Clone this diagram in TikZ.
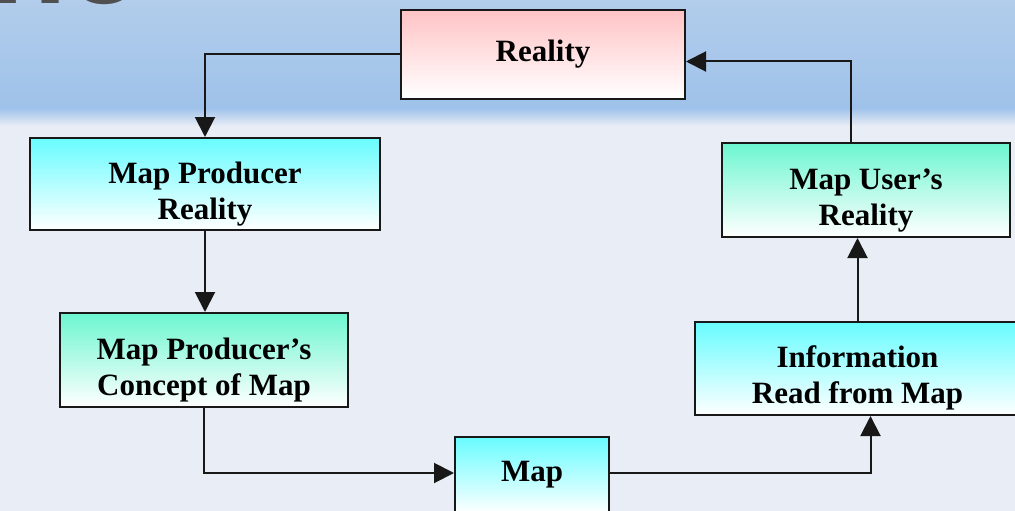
\documentclass[tikz,border=0pt]{standalone}
\usepackage{fontspec}
\setmainfont{Liberation Serif}
\newfontfamily\titrefont{Liberation Sans}
\usetikzlibrary{calc}
\usetikzlibrary{arrows.meta}
\definecolor{fondhaut}{HTML}{B2CDEB}
\definecolor{fondbleu}{HTML}{9FC2EA}
\definecolor{fondbas}{HTML}{E9EDF5}
\definecolor{rose}{HTML}{FFC3C5}
\definecolor{cyanclair}{HTML}{68FCFF}
\definecolor{aqua}{HTML}{6CF6D0}
\definecolor{bord}{HTML}{181818}
\definecolor{gristitre}{HTML}{505050}
\newcommand{\bas}[1]{\raisebox{-10pt}[\height][\depth]{\begin{tabular}{@{}c@{}}#1\end{tabular}}}
\tikzset{
  boite/.style={draw=bord, line width=2pt, inner sep=0pt, bottom color=white,
    font=\fontsize{31}{36}\selectfont\bfseries},
  fleche/.style={draw=bord, line width=2pt, -{Triangle[length=20pt,width=20pt]}},
  titre/.style={text=gristitre, inner sep=0pt, font=\titrefont\bfseries\fontsize{125}{125}\selectfont}
}
\begin{document}
\begin{tikzpicture}[x=1pt,y=-1pt]
    \useasboundingbox (0,0) rectangle (1015,511);
    % Fond
    \fill[fondbas] (0,0) rectangle (1015,511);
    \shade[top color=fondhaut, bottom color=fondbleu] (0,0) rectangle (1015,108);
    \shade[top color=fondbleu, bottom color=fondbas] (0,108) rectangle (1015,126);
    % Titre coupé
    \node[titre, anchor=base west] (titre) at (-10,4) {ho};
    % Boites
    \node[boite, top color=rose, minimum width=284pt, minimum height=89pt] (real) at (543,54.5) {Reality};
    \node[boite, top color=cyanclair, minimum width=350pt, minimum height=92pt] (prod) at (205,184) {\bas{Map Producer\\Reality}};
    \node[boite, top color=aqua, minimum width=288pt, minimum height=94pt] (concept) at (204,360) {\bas{Map Producer’s\\Concept of Map}};
    \node[boite, top color=cyanclair, minimum width=154pt, minimum height=76pt] (map) at (532,475) {Map};
    \node[boite, top color=cyanclair, minimum width=325pt, minimum height=93pt] (info) at (857.5,368.5) {\bas{Information\\Read from Map}};
    \node[boite, top color=aqua, minimum width=288pt, minimum height=94pt] (user) at (866,190) {\bas{Map User’s\\Reality}};
    % Fleches
    \draw[fleche] (real.west) -| (prod.north);
    \draw[fleche] (prod.south) -- (prod.south |- concept.north);
    \draw[fleche] (concept.south) |- ([yshift=2pt]map.west);
    \draw[fleche] ([yshift=2pt]map.east) -| ([xshift=13pt]info.south);
    \draw[fleche] (info.north) -- (info.north |- user.south);
    \draw[fleche] ([xshift=-15pt]user.north) |- ([yshift=-7pt]real.east);
\end{tikzpicture}
\end{document}
